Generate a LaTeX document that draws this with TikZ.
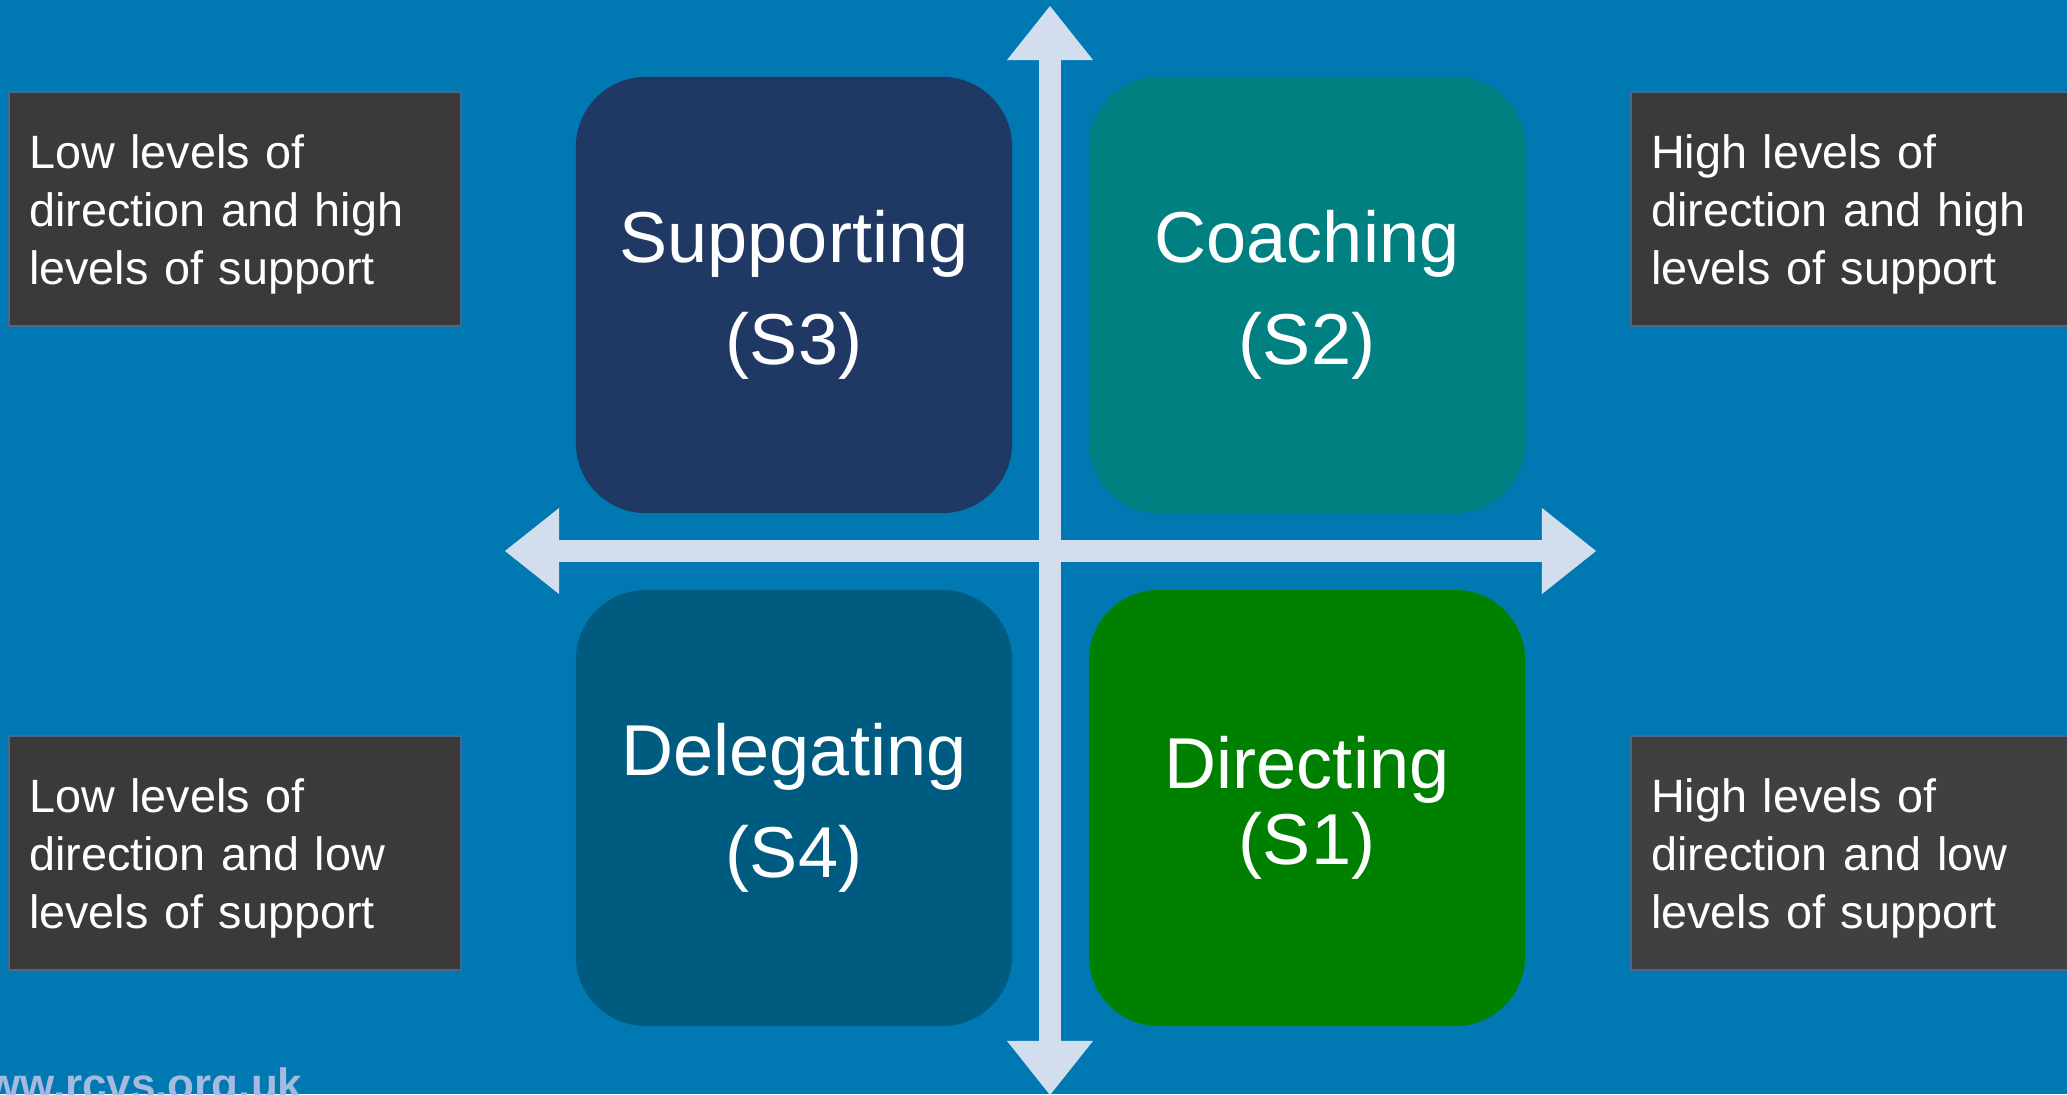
\documentclass[tikz,border=0pt]{standalone}
\usepackage{fontspec}
\setmainfont{Liberation Sans}
\usetikzlibrary{arrows.meta}

\definecolor{bgblue}{RGB}{0,120,177}
\definecolor{suppc}{RGB}{32,56,100}
\definecolor{coachc}{RGB}{0,128,128}
\definecolor{delegc}{RGB}{0,91,128}
\definecolor{directc}{RGB}{0,128,0}
\definecolor{axisc}{RGB}{210,222,238}
\definecolor{notec}{RGB}{59,58,57}
\definecolor{notec2}{RGB}{64,64,64}
\definecolor{edgec}{RGB}{72,104,146}
\definecolor{sitec}{RGB}{166,186,224}

\begin{document}
\begin{tikzpicture}[x=0.01cm,y=-0.01cm,
    quad/.style={rounded corners=0.7cm,minimum size=4.36cm,inner sep=0pt,
      text=white,align=center,font=\fontsize{20.5}{29}\selectfont},
    note/.style={anchor=north west,fill=notec,draw=edgec,line width=0.6pt,
      text=white,align=left,text width=4.12cm,inner xsep=0.2cm,
      minimum width=4.52cm,minimum height=2.34cm,text depth=33pt,
      font=\fontsize{13.3}{16.5}\selectfont},
    axis/.style={line width=0.22cm,color=axisc,<->,
      >={Triangle[width=0.86cm,length=0.54cm,line width=0pt]}}]
  \useasboundingbox (0,0) rectangle (2067,1094);
  \clip (0,0) rectangle (2067,1094);
  \fill[bgblue] (0,0) rectangle (2067,1094);

  \node[quad,fill=suppc] (S3) at (794,295) {Supporting\\(S3)};
  \node[quad,fill=coachc] (S2) at (1307,295) {Coaching\\(S2)};
  \node[quad,fill=delegc] (S4) at (794,808) {Delegating\\(S4)};
  \node[quad,fill=directc,font=\fontsize{20.5}{21.5}\selectfont] (S1) at (1307,808) {Directing\\(S1)};

  \coordinate (top) at (1050,6);
  \coordinate (bottom) at (1050,1095);
  \coordinate (left) at (505,551);
  \coordinate (right) at (1596,551);
  \draw[axis] (bottom) -- (top);
  \draw[axis] (left) -- (right);

  \node[note] (lowhigh) at (8,91) {Low levels of\\direction and high\\levels of support};
  \node[note] (highhigh) at (1630,91) {High levels of\\direction and high\\levels of support};
  \node[note] (lowlow) at (8,735) {Low levels of\\direction and low\\levels of support};
  \node[note,fill=notec2] (highlow) at (1630,735) {High levels of\\direction and low\\levels of support};

  \node[anchor=base east,inner sep=0pt,text=sitec,font=\fontsize{12.5}{15}\selectfont\bfseries] (site) at (303,1099) {www.rcvs.org.uk};
\end{tikzpicture}
\end{document}
